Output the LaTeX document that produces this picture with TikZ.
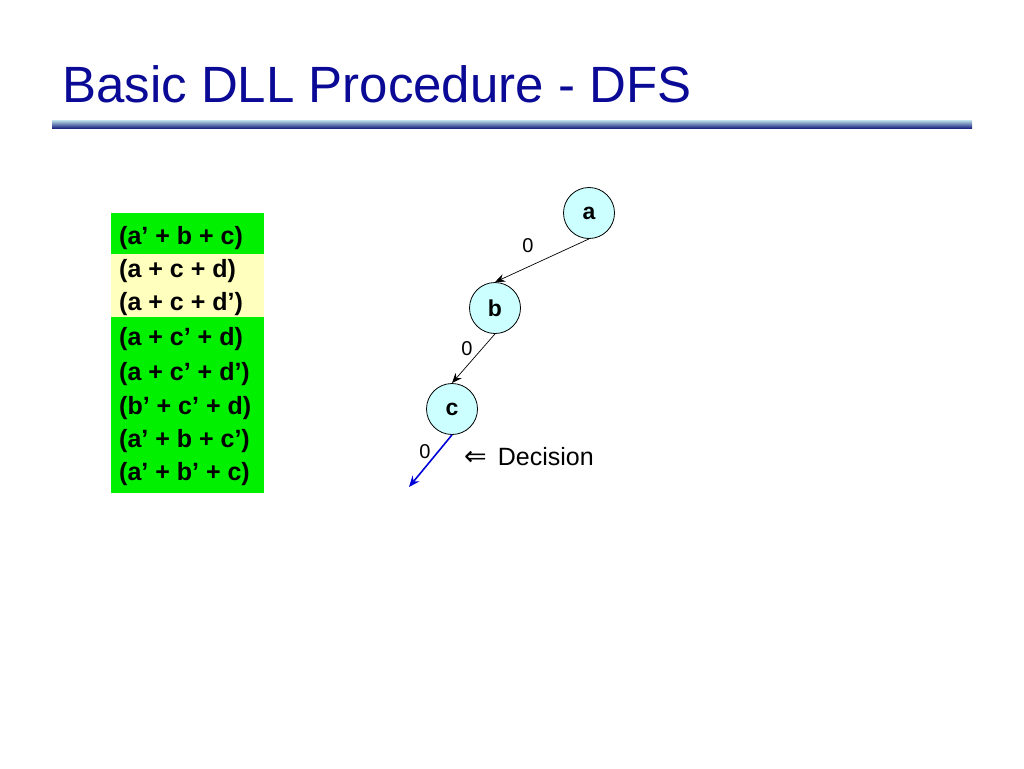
\documentclass[tikz,border=0pt]{standalone}
\usepackage{fontspec}
\setmainfont{Liberation Sans}
\newfontfamily\symfont{DejaVu Sans}
\usetikzlibrary{arrows.meta}
\definecolor{titleblue}{RGB}{10,10,150}
\definecolor{clgreen}{RGB}{0,240,0}
\definecolor{clyellow}{RGB}{255,255,190}
\definecolor{nodecyan}{RGB}{204,255,255}
\definecolor{barlight}{RGB}{190,225,235}
\definecolor{bardark}{RGB}{30,40,130}
\tikzset{
  vnode/.style={circle,draw=black,line width=0.8pt,fill=nodecyan,minimum size=51pt,inner sep=0pt,font=\fontsize{23}{27}\selectfont\bfseries},
  clause/.style={anchor=west,inner sep=0pt,font=\fontsize{25}{29}\selectfont\bfseries},
  elabel/.style={inner sep=0pt,font=\fontsize{20}{24}\selectfont},
  edge/.style={draw=black,line width=0.7pt,-{Stealth[length=10pt,width=8pt]}},
  bluedge/.style={draw=blue!85!black,line width=1.6pt,-{Stealth[length=11pt,width=9pt]}}
}
\begin{document}
\begin{tikzpicture}[x=1pt,y=-1pt]
\useasboundingbox (0,0) rectangle (1024,768);
\fill[white] (0,0) rectangle (1024,768);
% title
\node[anchor=base west,inner sep=0pt,text=titleblue,font=\fontsize{51}{60}\selectfont] (title) at (62,102) {Basic DLL Procedure - DFS};
\shade[top color=barlight,bottom color=bardark] (52,120) rectangle (972,128);
% clause boxes
\fill[clgreen] (111,213) rectangle (264,493);
\fill[clyellow] (111,254) rectangle (264,317);
\node[clause] (c1) at (119,238) {(a’ + b + c)};
\node[clause] (c2) at (119,271) {(a + c + d)};
\node[clause] (c3) at (119,304) {(a + c + d’)};
\node[clause] (c4) at (119,339) {(a + c’ + d)};
\node[clause] (c5) at (119,374) {(a + c’ + d’)};
\node[clause] (c6) at (119,408) {(b’ + c’ + d)};
\node[clause] (c7) at (119,441) {(a’ + b + c’)};
\node[clause] (c8) at (119,474) {(a’ + b’ + c)};
% tree
\node[vnode] (a) at (589,213) {a};
\node[vnode] (b) at (495,308) {b};
\node[vnode] (c) at (452,409) {c};
\coordinate (d) at (409,487);
\draw[edge] (a.south) -- (b.north);
\draw[edge] (b.south) -- (c.north);
\draw[bluedge] (c.south) -- (d);
\node[elabel] (l1) at (528,246) {0};
\node[elabel] (l2) at (467,349) {0};
\node[elabel] (l3) at (425,452) {0};
\node[anchor=west,inner sep=0pt,font=\fontsize{25}{29}\selectfont] (dec) at (464,457) {{\symfont\fontsize{27}{30}\selectfont ⇐}\hspace{11pt}Decision};
\end{tikzpicture}
\end{document}
